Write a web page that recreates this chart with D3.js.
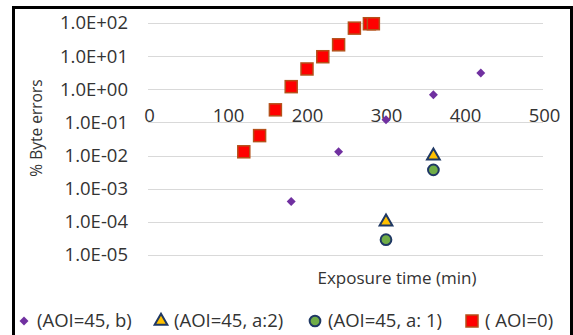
<!DOCTYPE html>
<html>
<head>
<meta charset="utf-8">
<script src="https://cdn.jsdelivr.net/npm/d3@7"></script>
<style>
  body { margin: 0; background: #fff; }
  text { font-family: "Open Sans", Lato, sans-serif; fill: #333; }
</style>
</head>
<body>
<div id="chart"></div>
<script>
// data
var aoi45b_x = [180, 240, 300, 360, 420]
var aoi45b_y = [4.1e-4, 0.013, 0.12, 0.68, 3.1]
var aoi45a2_x = [300, 360]
var aoi45a2_y = [1.0e-4, 0.0098]
var aoi45a1_x = [300, 360]
var aoi45a1_y = [2.9e-5, 0.0037]
var aoi0_x = [120, 140, 160, 180, 200, 220, 240, 260, 279, 284]
var aoi0_y = [0.013, 0.04, 0.24, 1.2, 4.1, 9.6, 22, 70, 95, 95]
var seriesNames = ["(AOI=45, b)", "(AOI=45, a:2)", "(AOI=45, a: 1)", "( AOI=0)"]
var xTicks = [0, 100, 200, 300, 400, 500]
var yTicks = [1e-5, 1e-4, 1e-3, 1e-2, 1e-1, 1e0, 1e1, 1e2]
var yTickLabels = ["1.0E-05", "1.0E-04", "1.0E-03", "1.0E-02", "1.0E-01", "1.0E+00", "1.0E+01", "1.0E+02"]

var W = 573, H = 335

var svg = d3.select("#chart")
  .append("svg")
    .attr("width", W)
    .attr("height", H)

// outer frame
svg.append("rect")
  .attr("x", 13.5).attr("y", 7.5)
  .attr("width", 558).attr("height", 340)
  .attr("fill", "none")
  .attr("stroke", "#000")
  .attr("stroke-width", 3)

var x = d3.scaleLinear()
  .domain([0, 500])
  .range([149, 544])

var y = d3.scaleLog()
  .domain([1e-5, 1e2])
  .range([255, 23])

// gridlines
svg.append("g")
  .selectAll("line")
  .data(yTicks)
  .enter()
  .append("line")
    .attr("x1", 148)
    .attr("x2", 543)
    .attr("y1", function(d) { return Math.round(y(d)) + 0.5 })
    .attr("y2", function(d) { return Math.round(y(d)) + 0.5 })
    .attr("stroke", "#d9d9d9")
    .attr("stroke-width", 1)

// y axis labels
var yAxis = svg.append("g")
  .attr("transform", "translate(128,0)")
  .call(d3.axisLeft(y).tickValues(yTicks).tickSize(0).tickPadding(0)
    .tickFormat(function(d, i) { return yTickLabels[i] }))
yAxis.select(".domain").remove()
yAxis.selectAll("text")
  .style("font-size", "18.5px")
  .style("font-family", "Open Sans")
  .attr("fill", "#333")

// x axis crosses at 0.1, labels above
var xAxis = svg.append("g")
  .attr("transform", "translate(0," + y(0.1) + ")")
  .call(d3.axisTop(x).tickValues(xTicks).tickSize(0).tickPadding(0))
xAxis.select(".domain").remove()
xAxis.selectAll("text")
  .style("font-size", "18.5px")
  .style("font-family", "Open Sans")
  .attr("fill", "#333")

// axis titles
svg.append("text")
  .attr("transform", "translate(42,128) rotate(-90)")
  .attr("text-anchor", "middle")
  .style("font-size", "15.5px")
  .text("% Byte errors")

svg.append("text")
  .attr("x", 397)
  .attr("y", 284)
  .attr("text-anchor", "middle")
  .style("font-size", "17px")
  .text("Exposure time (min)")

var sym = {
  diamond: d3.symbol().type(d3.symbolSquare).size(40),
  triangle: d3.symbol().type(d3.symbolTriangle).size(70),
  circle: d3.symbol().type(d3.symbolCircle).size(90)
}

function pairs(xs, ys) {
  return xs.map(function(v, i) { return [v, ys[i]] })
}

// AOI=0 squares
svg.append("g")
  .selectAll("rect")
  .data(pairs(aoi0_x, aoi0_y))
  .enter()
  .append("rect")
    .attr("x", function(d) { return x(d[0]) - 6 })
    .attr("y", function(d) { return y(d[1]) - 6 })
    .attr("width", 12)
    .attr("height", 12)
    .attr("fill", "#ff0000")
    .attr("stroke", "#b4501a")
    .attr("stroke-width", 1.5)

// AOI=45, b diamonds
svg.append("g")
  .selectAll("path")
  .data(pairs(aoi45b_x, aoi45b_y))
  .enter()
  .append("path")
    .attr("d", sym.diamond)
    .attr("transform", function(d) { return "translate(" + x(d[0]) + "," + y(d[1]) + ") rotate(45)" })
    .attr("fill", "#7030a0")

// AOI=45, a:2 triangles
svg.append("g")
  .selectAll("path")
  .data(pairs(aoi45a2_x, aoi45a2_y))
  .enter()
  .append("path")
    .attr("d", sym.triangle)
    .attr("transform", function(d) { return "translate(" + x(d[0]) + "," + y(d[1]) + ")" })
    .attr("fill", "#ffc000")
    .attr("stroke", "#1f3864")
    .attr("stroke-width", 2)

// AOI=45, a: 1 circles
svg.append("g")
  .selectAll("path")
  .data(pairs(aoi45a1_x, aoi45a1_y))
  .enter()
  .append("path")
    .attr("d", sym.circle)
    .attr("transform", function(d) { return "translate(" + x(d[0]) + "," + y(d[1]) + ")" })
    .attr("fill", "#70ad47")
    .attr("stroke", "#1f3864")
    .attr("stroke-width", 2)

// legend
var legendX = [24, 161, 315, 472]
var legend = svg.append("g")
seriesNames.forEach(function(name, i) {
  var g = legend.append("g").attr("transform", "translate(" + legendX[i] + ",321)")
  if (i == 0) g.append("path").attr("d", sym.diamond).attr("transform", "rotate(45)").attr("fill", "#7030a0")
  if (i == 1) g.append("path").attr("d", sym.triangle).attr("fill", "#ffc000").attr("stroke", "#1f3864").attr("stroke-width", 2)
  if (i == 2) g.append("path").attr("d", sym.circle).attr("fill", "#70ad47").attr("stroke", "#1f3864").attr("stroke-width", 2)
  if (i == 3) g.append("rect").attr("x", -6).attr("y", -6).attr("width", 12).attr("height", 12)
    .attr("fill", "#ff0000").attr("stroke", "#b4501a").attr("stroke-width", 1.5)
  g.append("text")
    .attr("x", 13)
    .attr("dy", "0.35em")
    .style("font-size", "18.5px")
    .text(name)
})
</script>
</body>
</html>
